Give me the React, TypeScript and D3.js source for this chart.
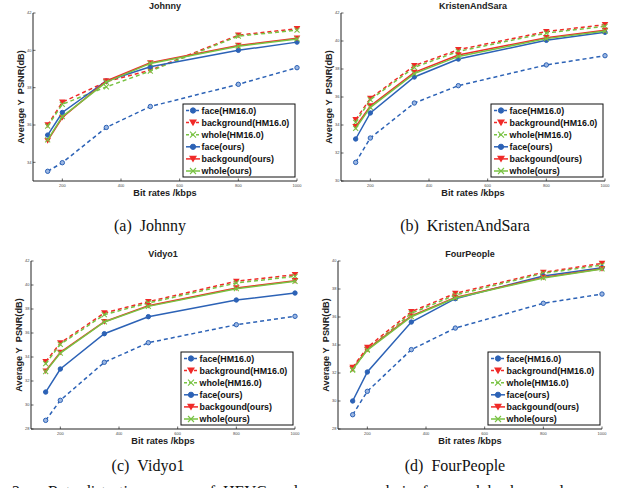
import * as d3 from "d3";

// bit rates used in every test sequence
const bitrates = [150, 200, 350, 500, 800, 1000];
const xTicks = [200, 400, 600, 800, 1000];

const seriesLabels = [
  "face(HM16.0)",
  "background(HM16.0)",
  "whole(HM16.0)",
  "face(ours)",
  "backgound(ours)",
  "whole(ours)",
];

// PSNR values, one row per series (same order as seriesLabels)
const johnnyPSNR = [
  [33.52, 33.98, 35.87, 36.99, 38.18, 39.07],
  [36.0, 37.22, 38.32, 38.94, 40.81, 41.16],
  [35.94, 37.11, 38.04, 38.89, 40.76, 41.08],
  [35.46, 36.67, 38.36, 39.12, 40.0, 40.44],
  [35.16, 36.4, 38.36, 39.33, 40.26, 40.65],
  [35.2, 36.45, 38.3, 39.3, 40.22, 40.61],
];
const kristenPSNR = [
  [31.33, 33.07, 35.57, 36.81, 38.29, 38.95],
  [34.38, 35.9, 38.24, 39.38, 40.67, 41.17],
  [34.19, 35.81, 38.12, 39.26, 40.57, 41.05],
  [33.0, 34.86, 37.43, 38.71, 40.05, 40.62],
  [33.88, 35.36, 37.76, 39.0, 40.24, 40.76],
  [33.76, 35.26, 37.67, 38.9, 40.17, 40.71],
];
const vidyoPSNR = [
  [28.72, 30.39, 33.56, 35.19, 36.69, 37.39],
  [33.61, 35.17, 37.67, 38.61, 40.31, 40.86],
  [33.44, 35.06, 37.53, 38.5, 40.17, 40.72],
  [31.08, 33.0, 35.94, 37.36, 38.75, 39.33],
  [32.83, 34.39, 36.94, 38.28, 39.75, 40.36],
  [32.78, 34.33, 36.92, 38.22, 39.69, 40.31],
];
const fourPeoplePSNR = [
  [29.02, 30.69, 33.67, 35.21, 36.98, 37.64],
  [32.4, 33.83, 36.38, 37.69, 39.19, 39.83],
  [32.21, 33.69, 36.26, 37.57, 39.12, 39.71],
  [30.0, 32.07, 35.64, 37.31, 38.93, 39.52],
  [32.31, 33.69, 36.07, 37.4, 38.83, 39.45],
  [32.26, 33.64, 36.02, 37.36, 38.79, 39.43],
];

const panelTitles = ["Johnny", "KristenAndSara", "Vidyo1", "FourPeople"];
const panelCaptions = ["(a)\u00a0\u00a0Johnny", "(b)\u00a0\u00a0KristenAndSara", "(c)\u00a0\u00a0Vidyo1", "(d)\u00a0\u00a0FourPeople"];
const panelData = [johnnyPSNR, kristenPSNR, vidyoPSNR, fourPeoplePSNR];
const yDomains = [[33, 42], [30, 42], [28, 42], [28, 40]];
const yTickSets = [
  [34, 36, 38, 40, 42],
  [30, 32, 34, 36, 38, 40, 42],
  [28, 30, 32, 34, 36, 38, 40, 42],
  [28, 30, 32, 34, 36, 38, 40],
];

const BLUE = "#2c62b6";
const RED = "#f02a28";
const GREEN = "#78c242";
const colors = [BLUE, RED, GREEN, BLUE, RED, GREEN];
const markers = ["circle", "triangle", "cross", "circle", "triangle", "cross"];

const offsets = [[0, 0], [308, 0], [-2, 248], [305, 248]];
const captionPos = [[150, 231], [465, 231], [148, 471], [455, 471]];

const L = 33, T = 13, R = 297, B = 181;
const sans = "'Liberation Sans', Arial, sans-serif";

function Marker({ type, x, y, color, hollow, big = false }) {
  const k = big ? 1.2 : 1;
  if (type === "circle")
    return <circle cx={x} cy={y} r={2.2 * k} fill={hollow ? "#9bb6e2" : color} stroke={color} strokeWidth={1} />;
  if (type === "triangle") {
    const s = 3.3 * k;
    return <path d={`M${x - s},${y - s * 0.8}L${x + s},${y - s * 0.8}L${x},${y + s * 0.9}Z`} fill={color} />;
  }
  const s = 2.5 * k;
  return (
    <path d={`M${x - s},${y - s}L${x + s},${y + s}M${x - s},${y + s}L${x + s},${y - s}`} stroke={color} strokeWidth={1.1} />
  );
}

function Panel({ idx }) {
  const [ox, oy] = offsets[idx];
  const x = d3.scaleLinear().domain([100, 1000]).range([L, R]);
  const y = d3.scaleLinear().domain(yDomains[idx]).range([B, T]);
  const line = d3.line<number>().x((d, i) => x(bitrates[i])).y((d) => y(d));
  const data = panelData[idx];
  const lx = 183, ly = 104, lw = 112, lh = 73, rowH = 12.1;
  return (
    <g transform={`translate(${ox},${oy})`}>
      <text x={(L + R) / 2} y={9} textAnchor="middle" fontFamily={sans} fontWeight="bold" fontSize={9} fill="#222">
        {panelTitles[idx]}
      </text>
      {/* axes */}
      <path d={`M${L},${T}V${B}H${R}`} fill="none" stroke="#222" strokeWidth={1} />
      {yTickSets[idx].map((t) => (
        <g key={t}>
          <line x1={L} x2={L + 2.5} y1={y(t)} y2={y(t)} stroke="#222" strokeWidth={0.7} />
          <text x={L - 1.5} y={y(t) + 1.4} textAnchor="end" fontFamily={sans} fontSize={4} fill="#444">{t}</text>
        </g>
      ))}
      {xTicks.map((t) => (
        <g key={t}>
          <line x1={x(t)} x2={x(t)} y1={B} y2={B - 2.5} stroke="#222" strokeWidth={0.7} />
          <text x={x(t)} y={B + 6} textAnchor="middle" fontFamily={sans} fontSize={4} fill="#444">{t}</text>
        </g>
      ))}
      <text x={(L + R) / 2} y={B + 14.5} textAnchor="middle" fontFamily={sans} fontWeight="bold" fontSize={9.2} fill="#222">
        Bit rates /kbps
      </text>
      <text transform={`translate(24,${(T + B) / 2}) rotate(-90)`} textAnchor="middle" fontFamily={sans} fontWeight="bold" fontSize={9.2} fill="#222">
        Average Y{"\u00a0\u00a0"}PSNR(dB)
      </text>
      {/* series */}
      {data.map((vals, si) => (
        <g key={si}>
          <path d={line(vals)} fill="none" stroke={colors[si]} strokeWidth={1.5} strokeDasharray={si < 3 ? "4,3" : null} />
          {vals.map((v, i) => (
            <Marker key={i} type={markers[si]} x={x(bitrates[i])} y={y(v)} color={colors[si]} hollow={si === 0} />
          ))}
        </g>
      ))}
      {/* legend */}
      <rect x={lx} y={ly} width={lw} height={lh} fill="#fff" stroke="#111" strokeWidth={1} />
      {seriesLabels.map((s, si) => {
        const cy = ly + 6.5 + si * rowH;
        return (
          <g key={s}>
            <line x1={lx + 3} x2={lx + 17} y1={cy} y2={cy} stroke={colors[si]} strokeWidth={1.5} strokeDasharray={si < 3 ? "3,2" : null} />
            <Marker type={markers[si]} x={lx + 10} y={cy} color={colors[si]} hollow={false} big />
            <text x={lx + 18.5} y={cy + 3.2} fontFamily={sans} fontWeight="bold" fontSize={8.9} fill="#111">{s}</text>
          </g>
        );
      })}
    </g>
  );
}

export default function App() {
  return (
    <svg width={618} height={488} style={{ position: "absolute", left: 0, top: 0, background: "#fff" }}>
      <rect width={618} height={488} fill="#fff" />
      {[0, 1, 2, 3].map((i) => (
        <Panel key={i} idx={i} />
      ))}
      {panelCaptions.map((c, i) => (
        <text key={c} x={captionPos[i][0]} y={captionPos[i][1]} textAnchor="middle" fontFamily="'Liberation Serif', 'Times New Roman', serif" fontSize={16} fill="#111">
          {c}
        </text>
      ))}
      <text x={12} y={497} fontFamily="'Liberation Serif', 'Times New Roman', serif" fontSize={16} fill="#111" wordSpacing={4}>
        2.{"\u00a0\u00a0\u00a0"}Rate-distortion curves of HEVC and our approach in face and background
      </text>
    </svg>
  );
}
